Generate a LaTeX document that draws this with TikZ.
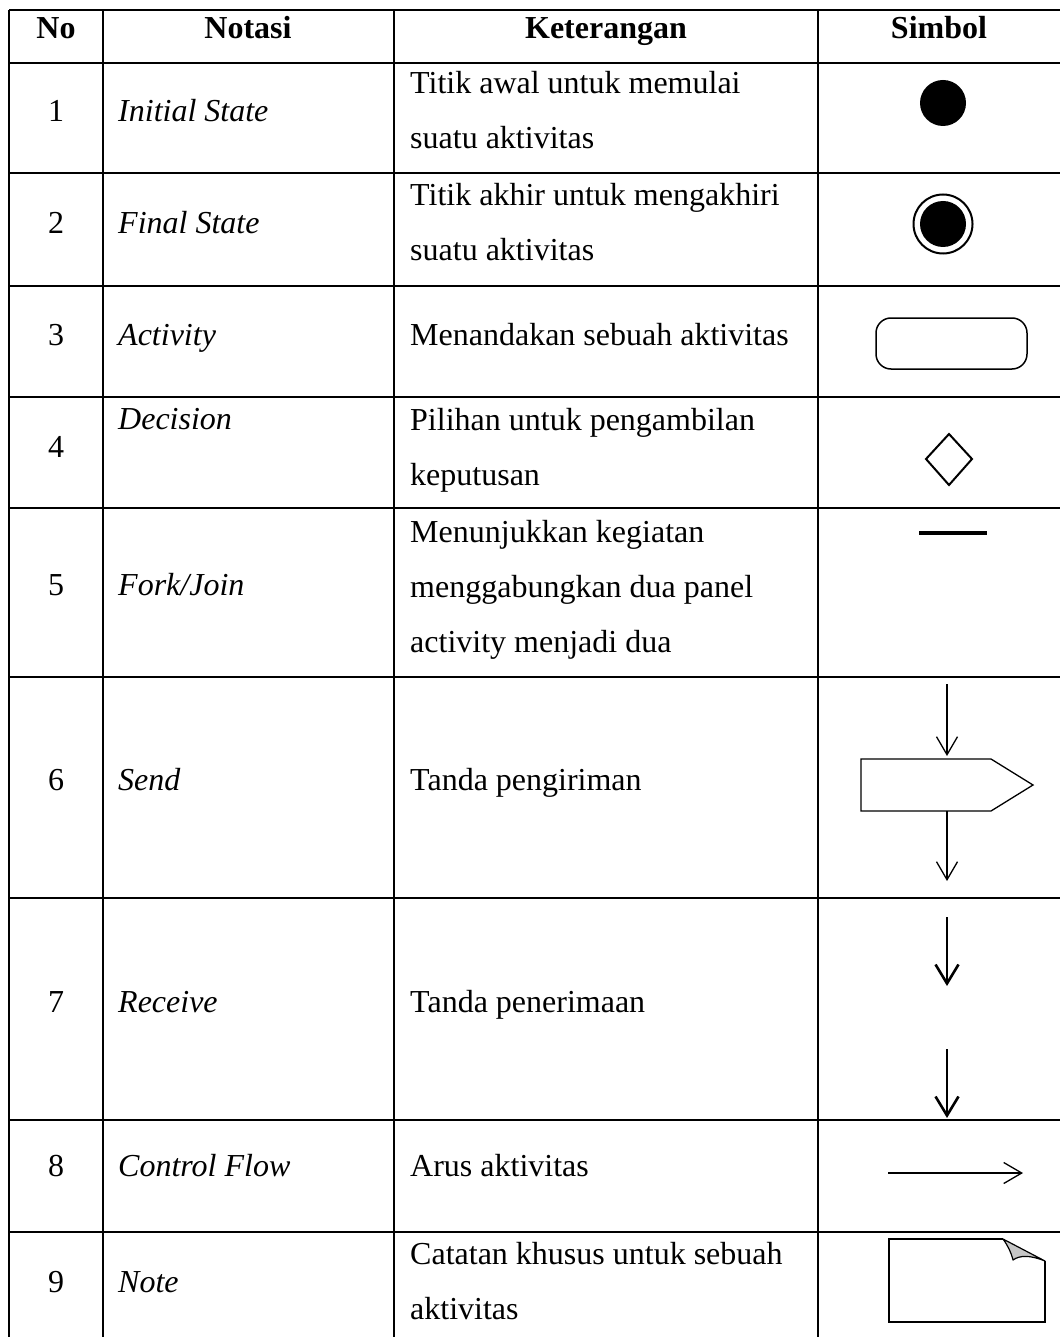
\documentclass[tikz,border=0pt]{standalone}
\usepackage{fontspec}
\setmainfont{Liberation Serif}
\usetikzlibrary{arrows.meta}
\tikzset{
	teks/.style={inner sep=0pt, font=\fontsize{32}{55}\selectfont},
	judul/.style={teks, font=\fontsize{32}{55}\selectfont\bfseries},
	notasi/.style={teks, font=\fontsize{32}{55}\selectfont\itshape},
	garis/.style={line width=1.5pt},
	panah/.style={-{Straight Barb[length=18pt,width=21pt]}, line width=1.3pt},
	panahtebal/.style={-{Straight Barb[length=19pt,width=23pt]}, line width=2.6pt},
}
\begin{document}
\begin{tikzpicture}[x=1pt, y=-1pt, join=miter]
	\useasboundingbox (0,0) rectangle (1060,1337);
	% garis tabel
	\foreach \ybaris in {10,63,173,286,397,508,677,898,1120,1232}
	\draw[garis] (9,\ybaris)--(1060,\ybaris);
	\foreach \xkolom in {9,103,394,818}
	\draw[garis] (\xkolom,10)--(\xkolom,1337);
	% judul kolom
	\path
	(56,39) node[judul, anchor=base] (hno){No}
	(248,39) node[judul, anchor=base] (hnotasi){Notasi}
	(606,39) node[judul, anchor=base] (hket){Keterangan}
	(939,39) node[judul, anchor=base] (hsimbol){Simbol};
	% nomor dan notasi
	\foreach \no/\ybase in {1/122,2/234,3/345,4/457,5/595,6/790,7/1012,8/1176,9/1292}
	\node[teks, anchor=base] (no\no) at (56,\ybase) {\no};
	\foreach \no/\ybase/\nama in {1/122/Initial State,2/234/Final State,3/345/Activity,4/429/Decision,5/595/Fork\slash Join,6/790/Send,7/1012/Receive,8/1176/Control Flow,9/1292/Note}
	\node[notasi, anchor=base west] (nota\no) at (118,\ybase) {\nama};
	% keterangan (base = baris terakhir)
	\node[teks, anchor=base west, align=left] (ket1) at (410,149) {Titik awal untuk memulai\\suatu aktivitas};
	\node[teks, anchor=base west, align=left] (ket2) at (410,261) {Titik akhir untuk mengakhiri\\suatu aktivitas};
	\node[teks, anchor=base west] (ket3) at (410,345) {Menandakan sebuah aktivitas};
	\node[teks, anchor=base west, align=left] (ket4) at (410,485) {Pilihan untuk pengambilan\\keputusan};
	\node[teks, anchor=base west, align=left] (ket5) at (410,652) {Menunjukkan kegiatan\\menggabungkan dua panel\\activity menjadi dua};
	\node[teks, anchor=base west] (ket6) at (410,790) {Tanda pengiriman};
	\node[teks, anchor=base west] (ket7) at (410,1012) {Tanda penerimaan};
	\node[teks, anchor=base west] (ket8) at (410,1176) {Arus aktivitas};
	\node[teks, anchor=base west, align=left] (ket9) at (410,1319) {Catatan khusus untuk sebuah\\aktivitas};
	% simbol
	\fill (943,103) circle (23);
	\draw[line width=2pt] (943,224) circle (29.5);
	\fill (943,224) circle (23);
	\draw[line width=1.5pt, rounded corners=15pt] (876,318) rectangle (1027,369);
	\draw[line width=2pt] (949,434)--(972,459)--(949,485)--(926,459)--cycle;
	\draw[line width=4.5pt] (919,533)--(987,533);
	% send
	\draw[line width=1.3pt] (861,759)--(991,759)--(1033,785)--(991,811)--(861,811)--cycle;
	\coordinate (kirimatas) at (947,684);
	\coordinate (kirimbawah) at (947,811);
	\draw[panah] (kirimatas)--(947,756);
	\draw[panah] (kirimbawah)--(947,881);
	% receive
	\draw[panahtebal] (947,917)--(947,986);
	\draw[panahtebal] (947,1049)--(947,1118);
	% control flow
	\draw[panah] (888,1173)--(1023,1173);
	% note
	\draw[line width=1.5pt] (1003,1239)--(889,1239)--(889,1322)--(1045,1322)--(1045,1261);
	\draw[line width=1.2pt, fill=gray!45, join=round]
	(1003,1239)--(1045,1261) .. controls (1030,1255) and (1020,1255) .. (1013,1260)
	.. controls (1011,1252) and (1008,1246) .. (1003,1239);
\end{tikzpicture}
\end{document}
